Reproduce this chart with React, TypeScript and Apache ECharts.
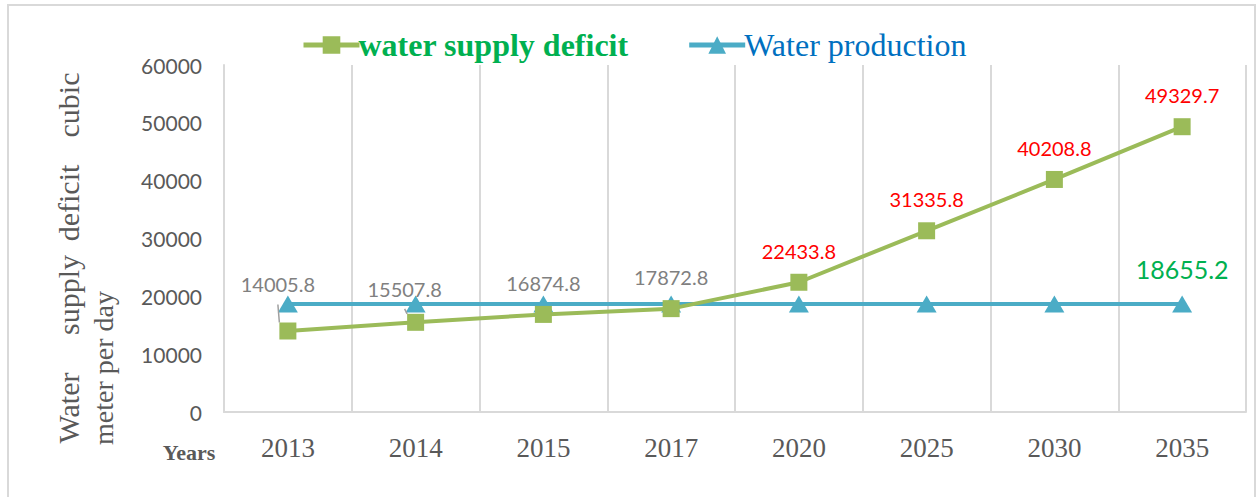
import React, { useEffect, useRef } from "react";
import * as echarts from "echarts";

const years = ["2013", "2014", "2015", "2017", "2020", "2025", "2030", "2035"];
const deficit = [14005.8, 15507.8, 16874.8, 17872.8, 22433.8, 31335.8, 40208.8, 49329.7];
const production = [18655.2, 18655.2, 18655.2, 18655.2, 18655.2, 18655.2, 18655.2, 18655.2];
const deficitLabelColors = ["#808080", "#808080", "#808080", "#808080", "#FF0000", "#FF0000", "#FF0000", "#FF0000"];
const deficitLabelOffsets = [[-10, -15], [-11, -2], [0, 0], [0, 0], [0, 0], [0, 0], [0, 0], [0, 0]];
const yTicks = { min: 0, max: 60000, interval: 10000 };

export default function App() {
  const ref = useRef<HTMLDivElement>(null);
  useEffect(() => {
    const chart = echarts.init(ref.current!, null, { renderer: "svg" });
    const serif = "'Liberation Serif', 'Times New Roman', serif";
    const sans = "Lato, 'Open Sans', sans-serif";
    chart.setOption({
      animation: false,
      backgroundColor: "#ffffff",
      legend: {
        top: 24,
        left: 296,
        itemWidth: 56,
        itemHeight: 22,
        itemGap: 58,
        lineStyle: { width: 5 },
        data: [
          { name: "water supply deficit", textStyle: { color: "#00B050", fontWeight: "bold", fontFamily: serif, fontSize: 32 } },
          { name: "Water production", textStyle: { color: "#0070C0", fontFamily: serif, fontSize: 32 } },
        ],
        textStyle: { padding: [0, 0, 0, -6] },
      },
      grid: { left: 224, right: 13, top: 65, bottom: 85, containLabel: false },
      xAxis: {
        type: "category",
        data: years,
        boundaryGap: true,
        axisLine: { show: true, lineStyle: { color: "#d9d9d9", width: 2 } },
        axisTick: { show: false },
        splitLine: { show: true, lineStyle: { color: "#d9d9d9", width: 2 } },
        axisLabel: { color: "#595959", fontFamily: serif, fontSize: 27, margin: 22 },
      },
      yAxis: {
        type: "value",
        min: yTicks.min,
        max: yTicks.max,
        interval: yTicks.interval,
        axisLine: { show: true, lineStyle: { color: "#d9d9d9", width: 2 } },
        axisTick: { show: false },
        splitLine: { show: false },
        axisLabel: { color: "#595959", fontFamily: sans, fontSize: 21, margin: 22, formatter: (v: number) => String(v) },
      },
      series: [
        {
          name: "water supply deficit",
          type: "line",
          data: deficit.map((v, i) => ({
            value: v,
            label: { color: deficitLabelColors[i], offset: deficitLabelOffsets[i] },
            labelLine: i < 2 ? { show: true, lineStyle: { color: "#a0a0a0", width: 1.5 } } : { show: false },
          })),
          symbol: "rect",
          symbolSize: 17,
          itemStyle: { color: "#9BBB59" },
          lineStyle: { color: "#9BBB59", width: 4 },
          label: {
            show: true,
            position: "top",
            distance: 13,
            fontFamily: sans,
            fontSize: 20,
            formatter: (p: any) => String(p.value),
          },
          z: 3,
        },
        {
          name: "Water production",
          type: "line",
          data: production.map((v, i) => ({
            value: v,
            label: {
              show: i === production.length - 1,
              color: "#00B050",
              fontSize: 25,
              fontFamily: sans,
              position: "top",
              distance: 14,
              formatter: (p: any) => String(p.value),
            },
          })),
          symbol: "triangle",
          symbolSize: [20, 17],
          itemStyle: { color: "#4BACC6" },
          lineStyle: { color: "#4BACC6", width: 4 },
          z: 2,
        },
      ],
      graphic: [
        {
          type: "rect",
          shape: { x: 8, y: 5, width: 1247, height: 500 },
          style: { fill: "none", stroke: "#d9d9d9", lineWidth: 2 },
          silent: true,
        },
        { type: "text", x: 68, y: 408, rotation: Math.PI / 2, style: { text: "Water", font: `30px ${serif}`, fill: "#595959", align: "center", verticalAlign: "middle" } },
        { type: "text", x: 68, y: 295, rotation: Math.PI / 2, style: { text: "supply", font: `30px ${serif}`, fill: "#595959", align: "center", verticalAlign: "middle" } },
        { type: "text", x: 68, y: 203, rotation: Math.PI / 2, style: { text: "deficit", font: `30px ${serif}`, fill: "#595959", align: "center", verticalAlign: "middle" } },
        { type: "text", x: 68, y: 105, rotation: Math.PI / 2, style: { text: "cubic", font: `30px ${serif}`, fill: "#595959", align: "center", verticalAlign: "middle" } },
        { type: "text", x: 103, y: 368, rotation: Math.PI / 2, style: { text: "meter per day", font: `28px ${serif}`, fill: "#595959", align: "center", verticalAlign: "middle" } },
        { type: "text", x: 189, y: 452, style: { text: "Years", font: `bold 22px ${serif}`, fill: "#595959", align: "center", verticalAlign: "middle" } },
      ],
    });
    return () => chart.dispose();
  }, []);
  return <div ref={ref} style={{ position: "fixed", left: 0, top: 0, width: 1259, height: 497 }} />;
}
